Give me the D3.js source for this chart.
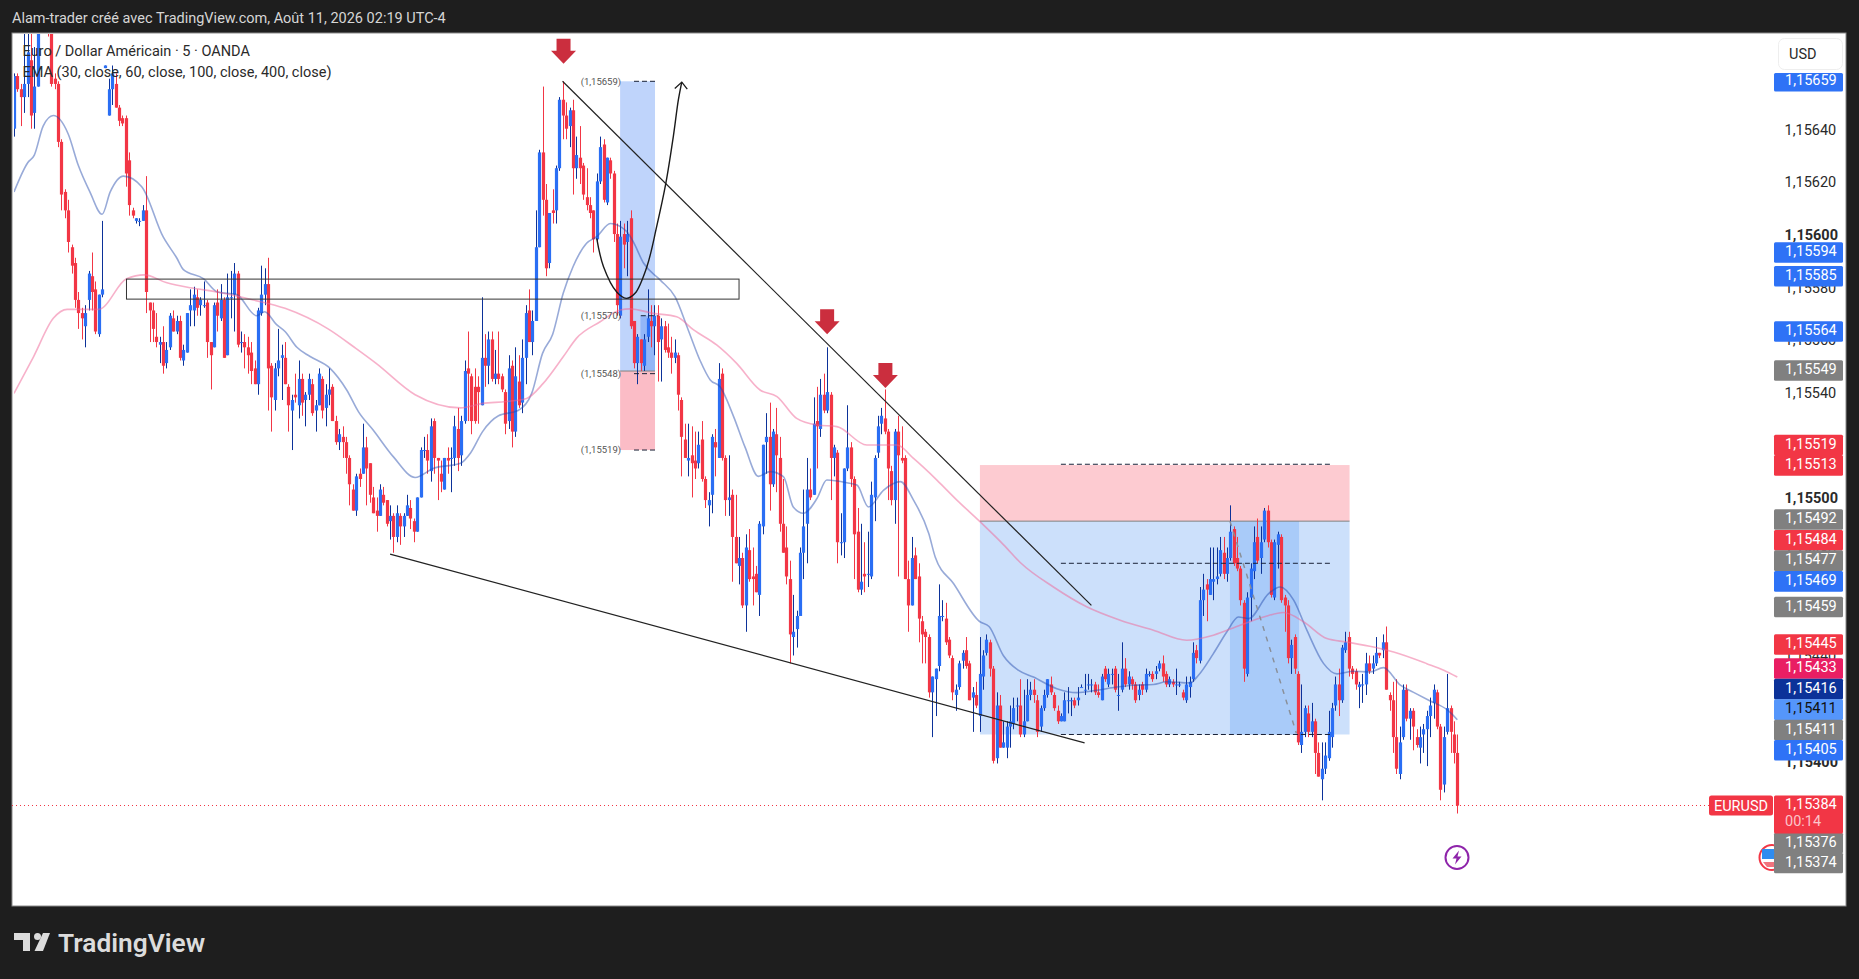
<!DOCTYPE html>
<html>
<head>
<meta charset="utf-8">
<title>EURUSD 5</title>
<script src="https://cdn.jsdelivr.net/npm/d3@7"></script>
<style>
	html, body { margin: 0; padding: 0; background: #1e1e1e; overflow: hidden; }
	svg { display: block; font-family: Roboto, sans-serif; }
</style>
</head>
<body>
<svg width="1859" height="979"></svg>
<script>
// every price below is in points above 1.15000, bars are [open, high, low, close]
const fridayBars = [
	[641,662,638,661],[661,662,655,656],[656,658,642,653],[653,678,647,658],[658,680,653,670],[667,678,641,646],[647,672,641,657],[657,690,657,685],[685,703,684,700],[700,705,688,695],
	[690,695,676,677],[690,692,657,658],[660,662,656,658],[658,659,634,636],[636,637,610,616],[617,618,607,610],[610,614,594,598],[596,597,586,589],[590,592,573,576],[576,579,565,571],
	[571,573,561,569],[566,574,558,571],[576,587,572,586],[585,594,572,579],[580,583,563,564],[563,578,562,578],[578,606,577,580]
];
const sundayBars = [
	[664,665,664,665],[646,660,646,656],[656,665,650,662],[658,662,649,649],[649,650,642,644],[645,646,642,643],[645,646,619,624],[629,632,608,612],[610,611,607,608],[606,607,605,607],
	[606,607,604,606],[606,612,606,610],[610,623,571,579],[575,575,560,572],[572,575,560,565],[562,571,558,560],[559,562,552,560],[560,566,548,551],[552,560,550,557],[558,571,557,570],
	[569,572,564,564],[564,570,563,568],[568,570,553,554],[553,559,551,557],[556,571,556,571],[572,580,566,574],[572,581,566,578],[577,580,570,573],[574,577,570,576],[574,583,573,574],
	[575,576,554,560],[560,560,542,555],[558,575,558,574],[575,580,564,570],[569,582,568,576],[576,577,554,554],[555,586,555,577],[577,587,569,577],[578,590,564,586],[586,587,558,559],
	[560,564,556,560],[560,563,550,558],[558,562,548,555],[556,560,544,549],[550,553,544,544],[544,573,540,572],[571,589,570,578],[578,588,574,582],[582,592,534,550],[551,552,526,539],
	[538,552,534,550],[550,565,547,553],[554,559,538,555],[554,560,544,544],[543,544,526,536],[534,540,519,538],[540,548,537,539],[536,553,531,546],[546,548,532,537],[538,541,528,540],
	[540,548,538,546],[544,546,532,533],[534,538,526,536],[536,550,536,548],[546,547,531,534],[535,544,528,540],[540,550,536,542],[543,544,530,530],[530,532,521,522],[522,527,519,525],
	[524,528,516,522],[522,524,510,516],[516,517,498,506],[504,506,496,496],[496,510,494,509],[510,512,505,508],[510,529,510,520],[520,524,498,512],[514,514,499,502],[501,505,495,495],
	[496,501,488,494],[494,506,494,504],[502,505,498,499],[500,500,490,491]
];
const aug10Bars = [
	[492,498,485,494],[494,495,480,486],[486,498,484,495],[494,495,483,490],[490,495,486,494],[494,502,494,498],[497,500,489,493],[492,493,484,488],[488,501,488,501],[501,520,501,519],
	[519,524,516,519],[519,525,510,515],[511,531,507,528],[530,531,510,516],[516,516,500,515],[510,515,503,507],[504,516,504,516],[516,520,510,515],[516,520,503,516],[516,532,513,528],
	[527,535,511,516],[517,532,513,530],[530,553,529,549],[550,564,530,548],[547,548,525,530],[543,550,529,530],[543,547,529,541],[536,577,536,554],[554,563,543,551],[551,564,544,561],
	[561,564,545,546],[546,557,544,548],[548,564,544,546],[547,548,541,542],[541,542,525,529],[530,555,527,550],[551,553,520,526],[526,558,524,547],[545,555,535,536],[537,561,533,554],
	[554,574,544,571],[572,580,560,560],[560,572,555,568],[568,610,568,596],[596,633,596,632],[632,657,608,614],[614,620,585,588],[590,609,588,609],[610,618,605,609],[610,627,605,626],
	[626,653,625,652],[652,659,637,646],[646,651,637,641],[642,649,634,648],[648,652,616,626],[626,638,622,631],[630,642,620,626],[627,628,614,616],[615,626,610,612],[612,615,607,609],
	[610,610,594,599],[599,624,598,621],[621,638,620,634],[635,637,613,614],[613,630,612,630],[629,630,622,624],[624,625,598,601],[601,605,570,574],[570,606,569,600],[601,605,588,597],
	[598,606,585,601],[607,610,565,566],[568,568,550,552],[552,563,544,562],[561,561,549,552],[551,563,549,561],[562,580,560,569],[568,574,558,566],[566,574,555,570],[570,574,545,560],
	[561,569,545,566],[566,568,556,557],[558,567,554,556],[556,562,548,554],[554,561,552,556],[555,556,534,540],[538,539,509,524],[523,529,516,516],[515,529,509,516],[517,528,501,514],
	[515,526,508,512],[514,526,512,521],[523,530,507,508],[508,509,497,500],[498,503,490,500],[502,525,495,524],[522,527,509,520],[516,552,516,546],[548,550,515,516],[516,517,494,500],
	[500,517,494,501],[502,504,469,486],[486,502,476,476],[475,486,468,478],[478,480,459,460],[460,487,450,482],[481,489,469,470],[471,482,460,470],[472,475,465,465],[464,492,456,491],
	[490,521,487,521],[522,533,510,524],[524,537,496,506],[506,527,505,526],[525,535,503,517],[516,524,488,491],[491,508,480,480],[482,490,468,471],[470,477,438,449],[448,464,441,450],
	[451,458,444,456],[456,482,470,480],[480,504,470,490],[491,516,476,504],[504,512,500,501],[502,539,502,529],[530,543,512,528],[527,546,524,540],[540,548,533,534],[534,558,533,541],
	[540,541,500,516],[516,521,509,520],[518,519,476,484],[484,495,479,484],[484,512,478,512],[512,536,511,520],[520,522,505,508],[508,509,470,487],[488,497,465,466],[466,491,464,469],
	[472,484,465,471],[472,488,467,472],[471,507,470,502],[501,517,492,516],[518,532,516,528],[529,535,525,532],[531,542,525,526],[526,527,500,512],[511,513,498,500],[500,527,491,526],
	[526,532,471,517],[516,528,514,515],[516,517,470,470],[470,477,450,460],[460,486,460,478],[479,482,470,470],[471,476,446,455],[454,456,438,449],[450,451,438,448],[448,449,425,427],
	[427,433,410,433],[432,436,418,436],[437,468,435,456],[456,462,454,456],[455,461,445,446],[447,448,440,441],[440,441,424,427],[426,430,420,428],[429,439,428,438],[439,443,436,442],
	[443,448,436,437],[438,439,424,424],[425,429,412,427],[426,431,421,422],[418,448,412,434],[433,443,428,441],[442,449,441,447],[446,447,433,436],[436,437,400,401],[402,427,400,422],
	[422,426,406,406],[406,416,406,408],[406,416,402,414],[414,422,406,416],[415,425,413,421],[422,425,416,422],[422,432,410,411],[411,428,410,416],[416,432,416,426],[426,431,424,428],
	[428,432,423,426],[424,426,410,412],[414,422,412,421],[421,428,420,426],[426,432,425,432],[430,433,426,427],[426,427,420,421],[420,422,415,416],[416,419,416,418],[416,427,416,424],
	[424,429,419,424],[424,425,418,424],[424,425,421,422],[424,429,422,425],[429,430,429,429],[428,434,426,428],[430,434,428,430],[430,432,427,430],[430,431,426,427],[427,430,425,426],
	[424,434,424,433],[436,437,431,432],[430,436,429,434],[434,436,430,434],[436,437,427,428],[426,434,420,426],[428,446,427,436],[436,440,429,430],[430,435,428,433],[432,433,428,430],
	[430,431,423,424],[426,430,424,428],[430,431,426,428],[428,436,427,434],[434,435,433,434],[434,435,431,432],[434,437,432,435],[436,439,435,438],[438,441,431,433],[434,435,429,430],
	[430,433,429,432],[431,432,429,430],[430,436,426,430],[430,431,429,430],[427,428,424,425],[424,433,423,430],[429,433,425,431],[432,446,431,442],[443,445,438,440],[439,467,438,462],
	[462,472,456,466],[468,470,454,466],[464,482,464,470],[469,482,462,470],[470,482,468,471],[472,486,471,481],[480,486,470,472],[472,482,469,478],[478,498,477,488],[489,490,475,476],
	[478,486,473,474],[474,475,460,462],[461,462,431,436],[434,465,433,463],[463,476,454,474],[473,490,470,484],[486,493,476,477],[478,490,472,484],[485,497,484,496],[496,498,482,484],
	[484,485,463,464],[463,485,462,484],[483,488,474,487],[486,487,461,462],[463,464,450,460],[460,462,438,440],[440,447,434,445],[448,449,434,436],[434,435,407,408],[407,430,404,412],
	[412,422,410,421],[419,422,410,412],[412,423,410,416],[416,417,396,404],[404,408,395,395],[394,408,386,398],[398,408,396,403],[402,420,401,412],[410,423,406,421],[422,433,420,430],
	[430,436,418,424],[424,445,423,444],[443,450,442,446],[448,450,433,436],[436,437,432,434],[435,436,428,430],[429,431,421,430],[430,434,423,430]
];
const aug11Bars = [
	[430,442,426,438],[438,441,434,435],[436,441,434,438],[438,448,437,442],[442,442,440,441],[443,449,440,446],[446,452,428,428],[426,427,420,424],[424,431,404,410],[410,432,396,398],
	[396,414,394,408],[410,430,409,428],[428,430,416,417],[417,421,409,420],[420,421,405,414],[410,413,406,407],[406,414,400,410],[411,415,404,413],[413,420,399,418],[418,425,410,422],
	[423,430,417,428],[427,428,413,414],[414,415,386,390],[392,414,389,410],[412,434,411,421],[421,422,404,412],[411,416,400,404],[404,411,381,384]
];

// moving averages as [bar, price]
const emaBlue = [
	[0,617],[4,628],[6,631],[8.6,642],[11.6,646],[16,639],[19,627],[22.4,617],[26,608.5],[28.4,617],[32.3,623],[37.7,619],[44,600],[48,592],[50,587.5],[56,584],[60,579],[65.7,578],[71.6,570],[74,571.5],
	[77.5,566.6],[80,564],[83.5,558],[87.4,554.5],[93.3,550],[98.2,541.8],[101.7,533.5],[106,526.6],[112,516.4],[118.4,508.6],[123.7,512],[131.8,514],[134.8,518],[138.3,526],[143,532],[148.8,534],[152.8,540.5],[156,555.7],[159,563],[162.1,578.5],
	[165,588.6],[169,597.5],[172,600],[176,605],[180.8,602],[182.8,598],[185.8,590],[190.7,583.6],[195.1,577.2],[199,564.6],[202.5,553],[205.5,545.6],[208.4,543],[212.4,531.7],[215.8,520],[219.7,509],[223.2,510.8],[227.1,508.9],[230,497.4],[233,495],
	[237,500.6],[239.9,507.6],[245.8,506.6],[248.8,505.7],[252.2,497.4],[256.7,503.8],[261.6,507],[265.5,500],[270,487.3],[271.9,478.4],[277.3,468.3],[285,453.9],[287.8,452],[292,441],[296.4,435.4],[300.9,432.8],[307.8,428.4],[313.7,426.9],[319.6,427.8],[325.5,429],
	[330.4,429.7],[336.3,430],[340.2,431],[347.1,430.6],[349.6,433.5],[354,441.7],[358,450],[361.4,455.6],[364.4,455],[370.3,464.5],[373.7,467],[377.7,462],[381.6,450.6],[386.5,438],[390.5,434],[395.4,435],[400.3,434.7],[404.2,436.4],[409.2,429.7],[413.1,427],
	[418,423.7],[423,420.4],[426,416.6]
];
const emaPink = [
	[0,540.5],[5.8,554.5],[11.6,569],[15.7,572.4],[25,572.4],[33.2,584],[38.5,585.5],[44.9,582.6],[53,580.4],[60,579],[70.6,576],[80,572.8],[92.7,565],[100.9,557.6],[106.8,552],[118.4,540],[131.8,535],[138.3,536.7],[145.3,537.4],[151.3,538.6],
	[156.2,544.3],[162.1,554.4],[166,561.4],[173,567.7],[178.9,572.2],[181.8,572.6],[188.7,570.9],[195.6,569.6],[200.6,564.6],[207.4,558.9],[213.3,551.9],[220.2,541.8],[225.2,539.3],[231,531],[237,528.5],[242.9,527.9],[251.7,520.9],[260.6,520.9],[265.5,515.8],[272.4,507.6],
	[278.3,500],[285.2,491.7],[292.1,483],[297,476.3],[306.8,467],[316.6,459.5],[326.5,454.4],[336.3,450.6],[346.1,446.8],[354,448.7],[361.9,452.5],[368.8,455.6],[374.7,457.3],[380.6,453.8],[387.5,447.4],[393.4,446.1],[401.3,444.2],[407.2,442.3],[417,437.9],[422,435.4],
	[426,432.8]
];

// drawings, all as bar / price
const trendLines = [[161.9,659,318,460],[111,479.5,316,407.8]];
const curvePoints = [[172,599.4],[174,588.6],[177.9,579],[180.7,576.6],[183.3,578.5],[186.8,588.6],[189.7,603.9],[192.4,620.3],[194.6,638],[196.1,652],[197.1,658.7]];
const zoneBox = [33.2,583.9,214,576.3];
const redArrows = [[162.2,665.7],[240,563],[257.2,542.6]];
const fibLevels = [659,570,548,519];
const shadedBoxes = [
	{ bars: [178.9,189.2], prices: [659,549], fill: "#bfd4fb" },
	{ bars: [178.9,189.2], prices: [549,519], fill: "#fbbcc6" },
	{ bars: [184.9,189.2], prices: [570,549], fill: "#93b6f7" },
	{ bars: [285.1,394.2], prices: [513.3,492], fill: "#fdcbd1" },
	{ bars: [285.1,394.2], prices: [492,411], fill: "#cce0fb" },
	{ bars: [358.9,379.3], prices: [492,411], fill: "#a9cbf9" }
];
const dashedLevels = [513.6,476,411];
const dashedBars = [309,388.4];
const fibDashBars = [183,190];
const diagonalDash = [[358.9,492],[378.5,411.5]];

// axes
const priceTicks = [640,620,600,580,560,540,520,500,480,460,440,420,400];
const tickBars = [3,27,51,75,111,147,183,219,255,291,327,363,399,435,471,507];
const tickLabels = ["15:00","9","19:00","21:00","10","03:00","06:00","09:00","12:00","15:00","18:00","21:00","11","03:00","06:00","09:00"];

// tags on the price scale
const tagPrices = [659,594,585,564,549,519,513,492,484,477,469,459,445,433,416,411,411,405,376,374];
const tagColors = ["#2e72f6","#2e72f6","#2e72f6","#2e72f6","#808080","#f23645","#f23645","#808080","#f23645","#808080","#2e72f6","#808080","#f23645","#e91e63","#0c3299","#5596fb","#808080","#2e72f6","#808080","#808080"];
const lastPrice = 384;
const lastCountdown = "00:14";

const W = 1859, H = 979;
const plot = { left: 12, top: 33, right: 1846, bottom: 906 };
const fontSize = 14.5;
const svg = d3.select("svg");

const bars = [...fridayBars, ...sundayBars, ...aug10Bars, ...aug11Bars];
const toPrice = v => 1.15 + v / 1e5;

const x = d3.scaleLinear([0, 426], [14, 1457.3]);
const y = d3.scaleLinear([toPrice(659), toPrice(384)], [81.3, 805.6]);
const py = v => y(toPrice(v));
const comma = d3.formatLocale({ decimal: ",", thousands: " ", grouping: [3], currency: ["", ""] }).format(".5f");

const defs = svg.append("defs");
defs.append("clipPath").attr("id", "clip").append("rect")
	.attr("x", 14).attr("y", plot.top + 1)
	.attr("width", plot.right - 14).attr("height", plot.bottom - plot.top - 1);

// page + chart panel
svg.append("rect").attr("width", W).attr("height", H).attr("fill", "#1e1e1e");
svg.append("rect")
	.attr("x", plot.left).attr("y", plot.top)
	.attr("width", plot.right - plot.left).attr("height", plot.bottom - plot.top)
	.attr("fill", "#fff").attr("stroke", "#8a8a8a").attr("stroke-width", 1);

svg.append("text").attr("x", 12).attr("y", 23).attr("fill", "#d6d6d6").attr("font-size", fontSize)
	.text("Alam-trader créé avec TradingView.com, Août 11, 2026 02:19 UTC-4");

const chart = svg.append("g").attr("clip-path", "url(#clip)");

// shaded zones under the candles
chart.append("g").selectAll("rect").data(shadedBoxes).join("rect")
	.attr("x", d => x(d.bars[0]))
	.attr("y", d => py(d.prices[0]))
	.attr("width", d => x(d.bars[1]) - x(d.bars[0]))
	.attr("height", d => py(d.prices[1]) - py(d.prices[0]))
	.attr("fill", d => d.fill);

// separators of the two position tools
[[178.9,189.2,549],[285.1,394.2,492]].forEach(([a, b, p]) => {
	chart.append("line").attr("x1", x(a)).attr("x2", x(b)).attr("y1", py(p)).attr("y2", py(p))
		.attr("stroke", "#808080").attr("stroke-width", 1);
});

// candles
const candle = chart.append("g").selectAll("g").data(bars).join("g");
candle.append("rect")
	.attr("x", (d, i) => Math.round(x(i)))
	.attr("y", d => py(d[1]))
	.attr("width", 1)
	.attr("height", d => Math.max(1, py(d[2]) - py(d[1])))
	.attr("fill", d => d[3] >= d[0] ? "#0c3299" : "#f23645");
candle.append("rect")
	.attr("x", (d, i) => Math.round(x(i)) + 0.5 - 1.6)
	.attr("y", d => py(Math.max(d[0], d[3])))
	.attr("width", 3.2)
	.attr("height", d => Math.max(1, Math.abs(py(d[0]) - py(d[3]))))
	.attr("fill", d => d[3] >= d[0] ? "#2a6ef4" : "#f23645");

// moving averages
const emaLine = d3.line().curve(d3.curveMonotoneX).x(d => x(d[0])).y(d => py(d[1]));
chart.append("path").attr("d", emaLine(emaBlue)).attr("fill", "none")
	.attr("stroke", "rgba(30,70,170,0.46)").attr("stroke-width", 1.6);
chart.append("path").attr("d", emaLine(emaPink)).attr("fill", "none")
	.attr("stroke", "rgba(240,100,150,0.5)").attr("stroke-width", 1.6);

// dashed levels
dashedLevels.forEach(p => {
	chart.append("line").attr("x1", x(dashedBars[0])).attr("x2", x(dashedBars[1])).attr("y1", py(p)).attr("y2", py(p))
		.attr("stroke", "#1a2238").attr("stroke-width", 1).attr("stroke-dasharray", "5 3");
});
fibLevels.forEach(p => {
	chart.append("line").attr("x1", x(p === 570 ? 185 : fibDashBars[0])).attr("x2", x(fibDashBars[1])).attr("y1", py(p)).attr("y2", py(p))
		.attr("stroke", "#1a2238").attr("stroke-width", 1).attr("stroke-dasharray", "5 3");
	chart.append("text").attr("x", x(178.9) + 1).attr("y", py(p)).attr("dy", "0.35em")
		.attr("text-anchor", "end").attr("font-size", 9.5).attr("fill", "#555")
		.text(`(${comma(toPrice(p))})`);
});

// diagonal projection
chart.append("path")
	.attr("d", d3.line().x(d => x(d[0])).y(d => py(d[1]))(diagonalDash))
	.attr("fill", "none").attr("stroke", "#8a8f98").attr("stroke-width", 1.5).attr("stroke-dasharray", "5 6");

// zone box
chart.append("rect")
	.attr("x", x(zoneBox[0])).attr("y", py(zoneBox[1]))
	.attr("width", x(zoneBox[2]) - x(zoneBox[0])).attr("height", py(zoneBox[3]) - py(zoneBox[1]))
	.attr("fill", "none").attr("stroke", "#333").attr("stroke-width", 1);

// trend lines
trendLines.forEach(([a, pa, b, pb]) => {
	chart.append("line").attr("x1", x(a)).attr("y1", py(pa)).attr("x2", x(b)).attr("y2", py(pb))
		.attr("stroke", "#222").attr("stroke-width", 1.2);
});

// curve with arrow head
const curveLine = d3.line().curve(d3.curveCatmullRom).x(d => x(d[0])).y(d => py(d[1]));
chart.append("path").attr("d", curveLine(curvePoints)).attr("fill", "none")
	.attr("stroke", "#1a1a1a").attr("stroke-width", 1.4);
const tip = curvePoints[curvePoints.length - 1];
chart.append("path")
	.attr("transform", `translate(${x(tip[0])},${py(tip[1])})`)
	.attr("d", "M-7,6.5L0,0L5.5,7")
	.attr("fill", "none").attr("stroke", "#1a1a1a").attr("stroke-width", 1.3);

// red arrows
chart.append("g").selectAll("path").data(redArrows).join("path")
	.attr("transform", d => `translate(${x(d[0])},${py(d[1])})`)
	.attr("d", "M0,0L-12.5,-13L-7,-13L-7,-25L7,-25L7,-13L12.5,-13Z")
	.attr("fill", "#cb2e3e");

// last price line
const lastY = py(lastPrice);
svg.append("line").attr("x1", plot.left).attr("x2", 1709).attr("y1", Math.floor(lastY) + 0.5).attr("y2", Math.floor(lastY) + 0.5)
	.attr("stroke", "#f23645").attr("stroke-width", 1).attr("stroke-dasharray", "1 3");

// legend
const legend = svg.append("g").attr("font-size", fontSize).attr("fill", "#2a2a2a");
legend.append("text").attr("x", 22.5).attr("y", 56).text("Euro / Dollar Américain · 5 · OANDA");
legend.append("text").attr("x", 22.5).attr("y", 77).text("EMA (30, close, 60, close, 100, close, 400, close)");

// bottom markers
const markers = svg.append("g");
markers.append("circle").attr("cx", 1457).attr("cy", 857.5).attr("r", 11.5)
	.attr("fill", "#fff").attr("stroke", "#8e24aa").attr("stroke-width", 2);
markers.append("path").attr("transform", "translate(1457,857.5)")
	.attr("d", "M2,-7L-4.5,1L-0.5,1L-2,7L4.5,-1L0.5,-1Z").attr("fill", "#8e24aa");
markers.append("circle").attr("cx", 1772).attr("cy", 857.5).attr("r", 12.5)
	.attr("fill", "#fff").attr("stroke", "#f23645").attr("stroke-width", 2);
markers.append("path").attr("d", "M1762,849h14v10h-14z").attr("fill", "#2e8cf0");
markers.append("path").attr("d", "M1763,862h12v5h-8z").attr("fill", "#f2737d");

// price axis
const yAxis = d3.axisRight(y)
	.tickValues(priceTicks.map(toPrice))
	.tickSize(0)
	.tickPadding(0)
	.tickFormat(comma);
const gY = svg.append("g").attr("transform", "translate(1784.5,-1.5)").call(yAxis);
gY.select(".domain").remove();
gY.selectAll("text")
	.attr("font-family", "Roboto, sans-serif").attr("font-size", fontSize).attr("fill", "#2a2a2a")
	.attr("dy", "0.3em")
	.attr("font-weight", d => Math.round(d * 1e5) % 100 === 0 ? 700 : 400);

// time axis
const xAxis = d3.axisBottom(x)
	.tickValues(tickBars)
	.tickSize(0)
	.tickPadding(0)
	.tickFormat((d, i) => tickLabels[i]);
const gX = svg.append("g").attr("transform", "translate(0,885)").attr("clip-path", "url(#clip)").call(xAxis);
gX.select(".domain").remove();
gX.selectAll("text")
	.attr("font-family", "Roboto, sans-serif").attr("font-size", fontSize).attr("fill", "#2a2a2a")
	.attr("font-weight", (d, i) => tickLabels[i] === "10" ? 700 : 400);

// USD box
svg.append("rect").attr("x", 1778.5).attr("y", 38.5).attr("width", 64).attr("height", 31).attr("rx", 6)
	.attr("fill", "#fff").attr("stroke", "#eeeeee");
svg.append("text").attr("x", 1789).attr("y", 59).attr("font-size", fontSize).attr("fill", "#2a2a2a").text("USD");

// tags. crowded ones are pushed apart the way the chart does it
const tagNudge = [0, 0, 0, 0, -0.5, -5, -0.5, -1.7, -2, 0, -0.4, -1, -0.5, -8, -32.2, -24.9, -4.5, 0, 16.3, 31];
const tagBoxH = 20.6;
const tags = svg.append("g").selectAll("g").data(tagPrices).join("g")
	.attr("transform", (d, i) => `translate(1774,${py(d) + tagNudge[i]})`);
tags.append("rect").attr("y", (d, i) => i === 0 ? -8.3 : -tagBoxH / 2).attr("width", 69)
	.attr("height", (d, i) => i === 0 ? 18.4 : tagBoxH).attr("rx", 1.5)
	.attr("fill", (d, i) => tagColors[i]);
tags.append("text").attr("x", 11).attr("y", -1.5).attr("dy", "0.35em").attr("font-size", fontSize)
	.attr("fill", (d, i) => tagColors[i] === "#5596fb" ? "#111" : "#fff")
	.text(d => comma(toPrice(d)));

// last price tag with countdown
svg.append("rect").attr("x", 1774).attr("y", lastY - 10).attr("width", 69).attr("height", 38).attr("rx", 1.5).attr("fill", "#f23645");
svg.append("text").attr("x", 1785).attr("y", lastY + 3).attr("font-size", fontSize).attr("fill", "#fff").text(comma(toPrice(lastPrice)));
svg.append("text").attr("x", 1785).attr("y", lastY + 20).attr("font-size", fontSize).attr("fill", "#fff").attr("fill-opacity", 0.72).text(lastCountdown);
svg.append("rect").attr("x", 1709).attr("y", lastY - 10).attr("width", 64).attr("height", 20).attr("rx", 2.5).attr("fill", "#f23645");
svg.append("text").attr("x", 1741).attr("y", lastY + 5).attr("text-anchor", "middle").attr("font-size", fontSize).attr("fill", "#fff").text("EURUSD");

// logo
const logo = svg.append("g").attr("fill", "#dcdcdc");
logo.append("path").attr("d", "M14,933H30V951H23V940H14Z");
logo.append("circle").attr("cx", 37.5).attr("cy", 936.5).attr("r", 3.5);
logo.append("path").attr("d", "M43,933H50L43,951H34.5Z");
logo.append("text").attr("x", 58).attr("y", 951.5).attr("font-size", 26.3).attr("font-weight", 600)
	.text("TradingView");
</script>
</body>
</html>
